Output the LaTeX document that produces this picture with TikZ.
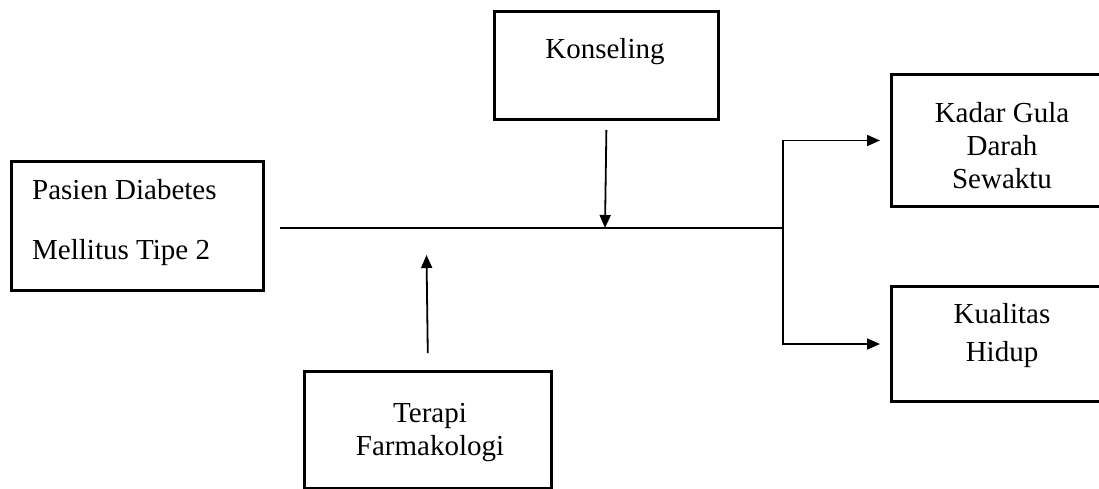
\documentclass[tikz,border=0pt]{standalone}
\usepackage{fontspec}
\setmainfont{Liberation Serif}
\usetikzlibrary{arrows.meta}
\begin{document}
\begin{tikzpicture}[x=1pt,y=-1pt,
  box/.style={draw,line width=3pt,inner sep=0pt,anchor=north west},
  txt/.style={inner sep=0pt,font=\fontsize{29}{33}\selectfont,align=center},
  conn/.style={line width=1.8pt},
  tip/.style={-{Triangle[length=13pt,width=11pt]}}]
\useasboundingbox (0,0) rectangle (1099,488);
% boxes
\node[box,minimum width=252pt,minimum height=129pt] (pasien) at (10,160) {};
\node[box,minimum width=224pt,minimum height=108pt] (konseling) at (493,10) {};
\node[box,minimum width=247pt,minimum height=117pt] (terapi) at (303,370) {};
\node[box,minimum width=260pt,minimum height=132pt] (kadar) at (890,73) {};
\node[box,minimum width=260pt,minimum height=115pt] (kualitas) at (890,285) {};
% texts
\node[txt,anchor=west,align=left] (tpasien) at (32,223) {Pasien Diabetes\\[27pt]Mellitus Tipe 2};
\node[txt] (tkonseling) at (605,52) {Konseling};
\node[txt] (tterapi) at (430,433) {Terapi\\Farmakologi};
\node[txt] (tkadar) at (1002,146) {Kadar Gula\\Darah\\Sewaktu};
\node[txt] (tkualitas) at (1002,336) {Kualitas\\[5pt]Hidup};
% connectors
\coordinate (ls) at (280,228);
\coordinate (jn) at (783,228);
\coordinate (kj) at (605,228);
\coordinate (tj) at (426.5,255);
\draw[conn] (ls) -- (jn);
\draw[conn,tip,shorten <=9pt] (konseling.south) -- (kj);
\draw[conn,tip,shorten <=17pt] (terapi.north) -- (tj);
\draw[conn,tip,shorten >=10pt] (jn) |- (kadar.west);
\draw[conn,tip,shorten >=10pt] (jn) |- (kualitas.west);
\end{tikzpicture}
\end{document}
